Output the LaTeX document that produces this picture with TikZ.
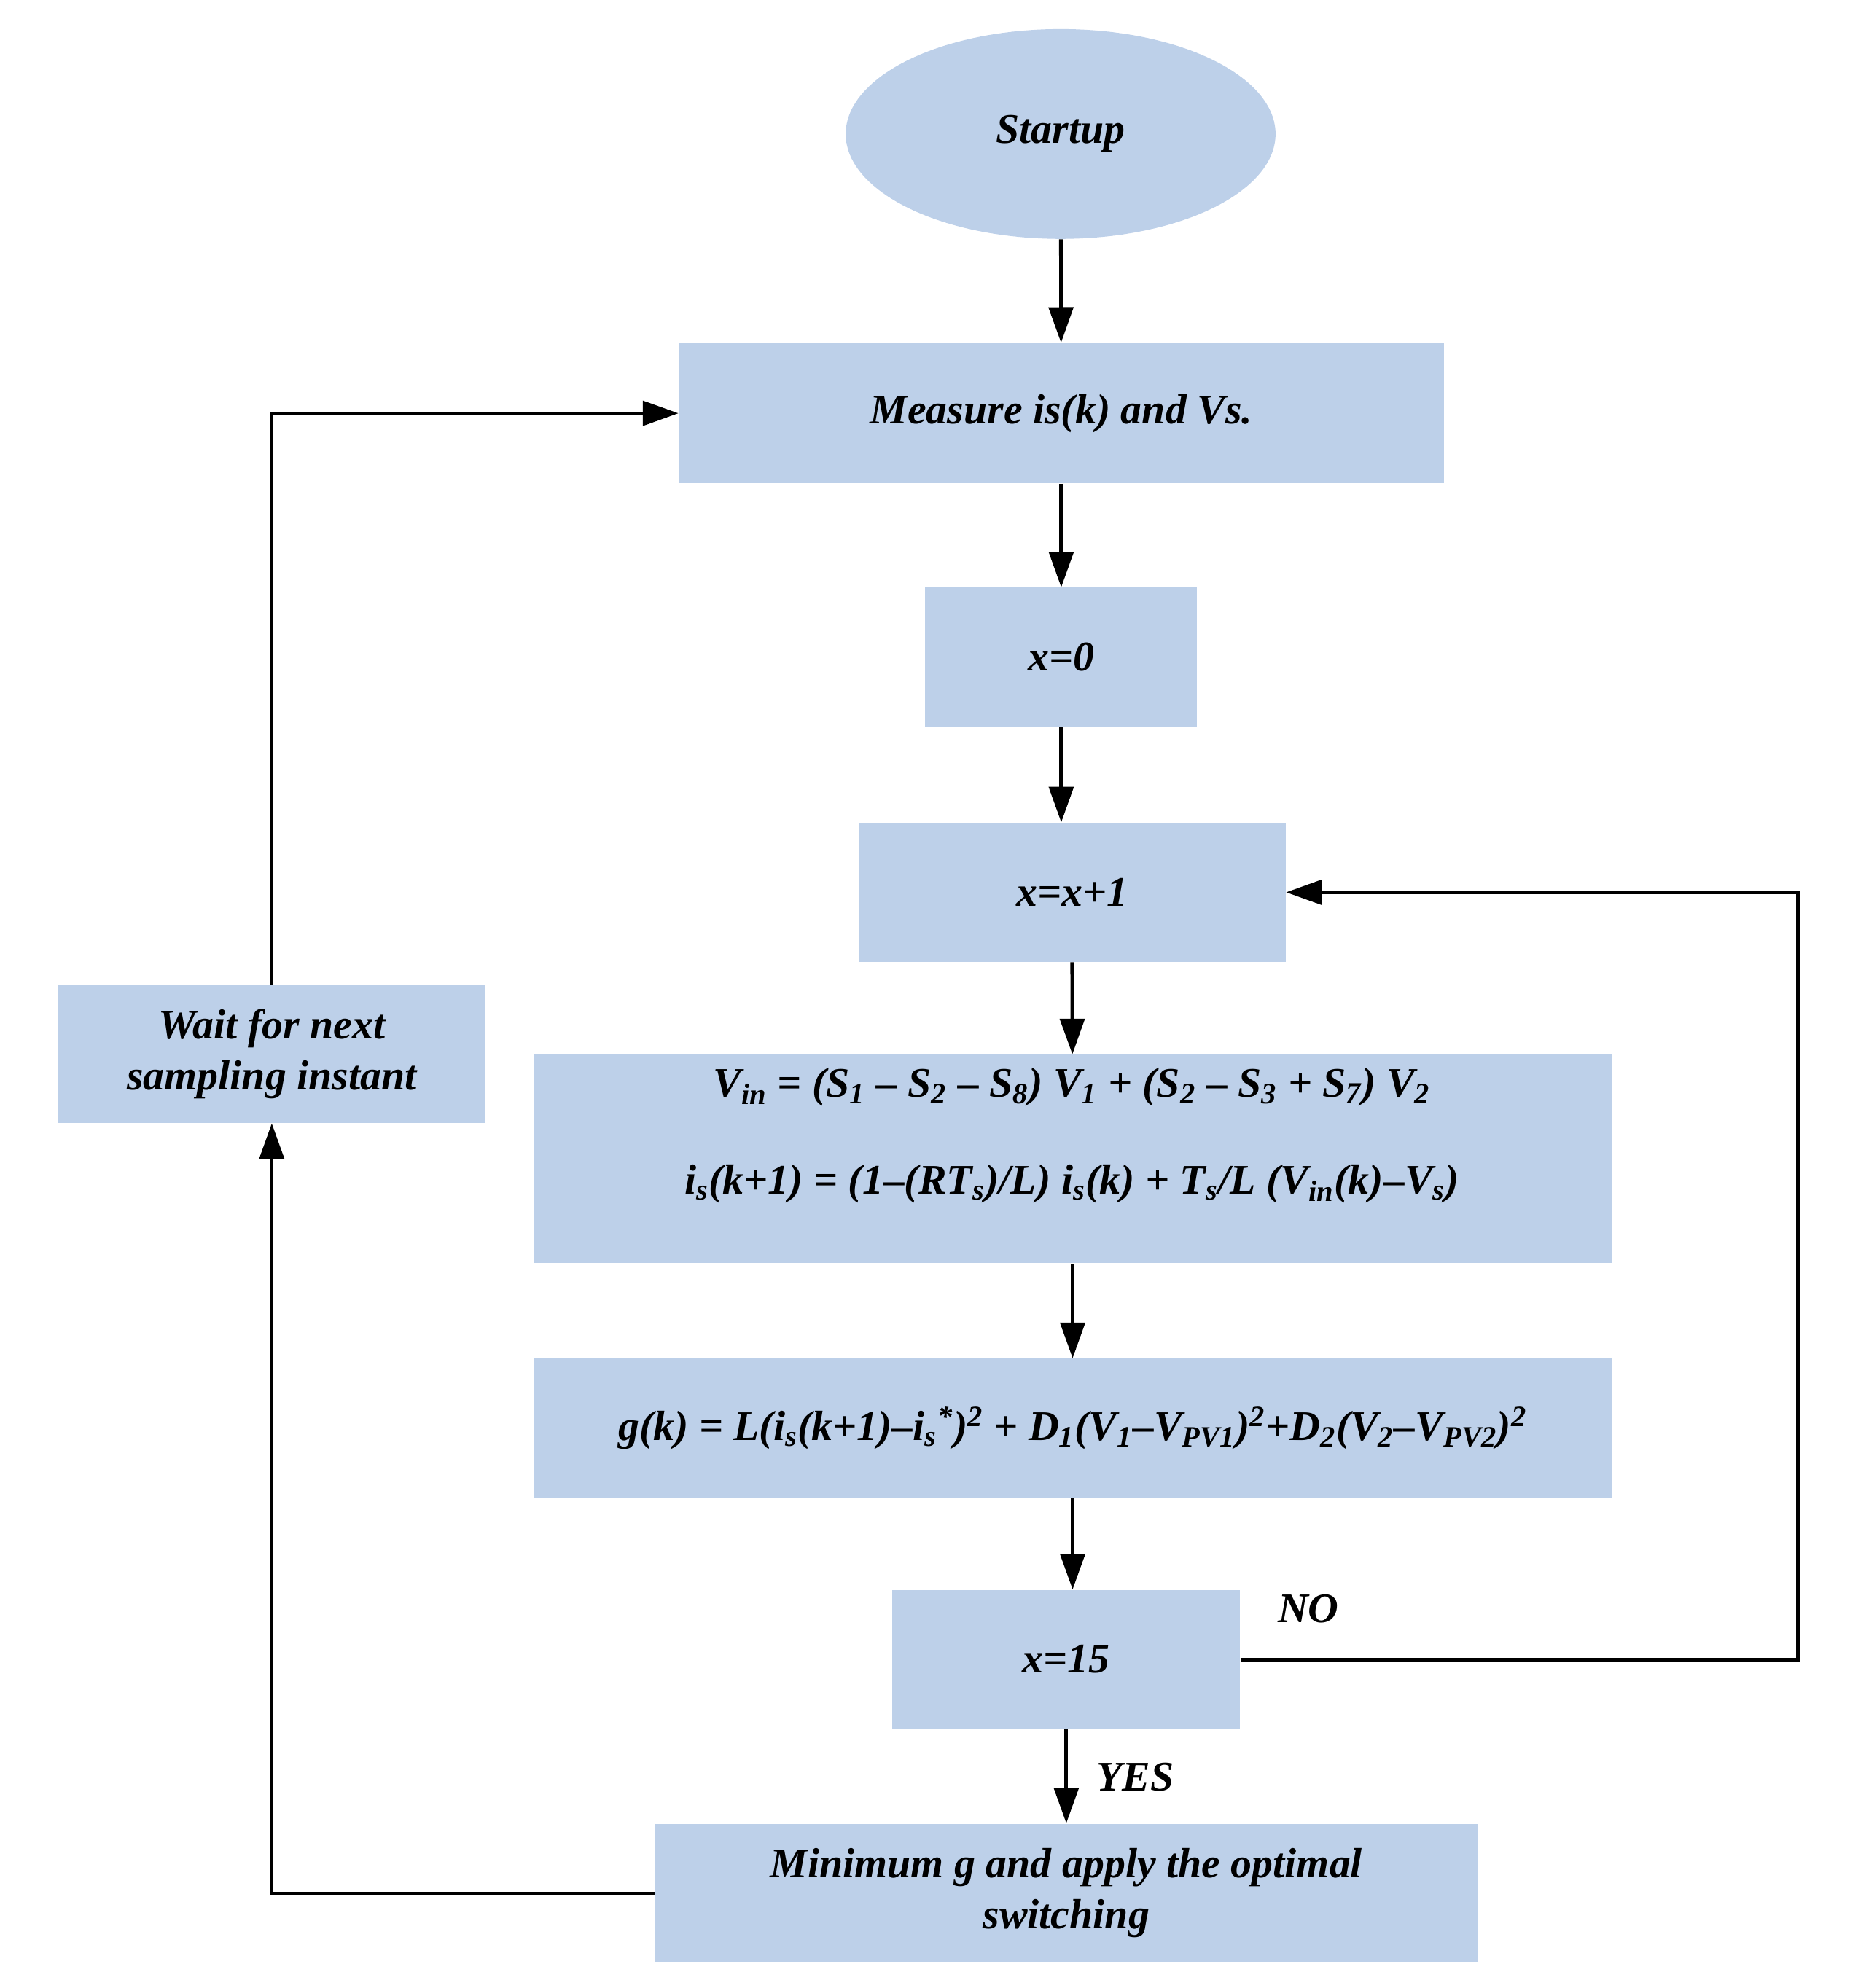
\documentclass[tikz,border=0pt]{standalone}
\usepackage{fontspec}
\setmainfont{Liberation Serif}
\usetikzlibrary{shapes.geometric,arrows.meta}
\definecolor{boxblue}{HTML}{BDD0E9}
\newcommand{\sbs}[1]{\textsubscript{#1}}
\newcommand{\sps}[1]{\textsuperscript{#1}}
\begin{document}
\begin{tikzpicture}[x=0.02cm,y=-0.02cm,
  every node/.style={font=\fontsize{19}{23}\selectfont\bfseries\itshape},
  box/.style={fill=boxblue,draw=none,align=center,inner sep=0pt},
  arr/.style={line width=1.6pt,-{Triangle[length=16pt,width=11pt]}}]
\useasboundingbox (0,0) rectangle (1463,1573);
\node[box,ellipse,minimum width=340*0.02cm,minimum height=166*0.02cm] (start) at (839,106) {Startup};
\node[box,minimum width=605*0.02cm,minimum height=111*0.02cm] (meas) at (839.5,327) {Measure is(k) and Vs.};
\node[box,minimum width=215*0.02cm,minimum height=110*0.02cm] (x0) at (839.5,520) {x=0};
\node[box,minimum width=338*0.02cm,minimum height=110*0.02cm] (x1) at (848,706) {x=x+1};
\node[box,minimum width=853*0.02cm,minimum height=165*0.02cm] (vin) at (848.5,917) {};
\node at (848,860) {V\sbs{in} = (S\sbs{1} – S\sbs{2} – S\sbs{8}) V\sbs{1} + (S\sbs{2} – S\sbs{3} + S\sbs{7}) V\sbs{2}};
\node at (848,937) {i\sbs{s}(k+1) = (1–(RT\sbs{s})/L) i\sbs{s}(k) + T\sbs{s}/L (V\sbs{in}(k)–V\sbs{s})};
\node[box,minimum width=853*0.02cm,minimum height=110*0.02cm] (g) at (848.5,1130) {g(k) = L(i\sbs{s}(k+1)–i\sbs{s}\sps{*})\sps{2} + D\sbs{1}(V\sbs{1}–V\sbs{PV1})\sps{2}+D\sbs{2}(V\sbs{2}–V\sbs{PV2})\sps{2}};
\node[box,minimum width=275*0.02cm,minimum height=110*0.02cm] (x15) at (843.5,1313) {x=15};
\node[box,minimum width=651*0.02cm,minimum height=110*0.02cm] (min) at (843.5,1498) {Minimum g and apply the optimal\\switching};
\node[box,minimum width=338*0.02cm,minimum height=109*0.02cm] (wait) at (215,834) {Wait for next\\sampling instant};
\node (no) at (1035,1273) {NO};
\node (yes) at (898,1406) {YES};
\coordinate (r1) at (1422,1313);
\coordinate (r2) at (1422,706);
\coordinate (l1) at (215,1498);
\coordinate (l2) at (215,327);
\draw[arr] (start) -- (meas);
\draw[arr] (meas) -- (x0);
\draw[arr] (x0.south) -- (x1.north -| x0.south);
\draw[arr] (x1) -- (vin);
\draw[arr] (vin) -- (g);
\draw[arr] (g) -- (x15.north -| g.south);
\draw[arr] (x15) -- (min);
\draw[arr] (x15.east) -- (r1) -- (r2) -- (x1.east);
\draw[arr] (min.west) -- (l1) -- (wait.south);
\draw[arr] (wait.north) -- (l2) -- (meas.west);
\end{tikzpicture}
\end{document}
